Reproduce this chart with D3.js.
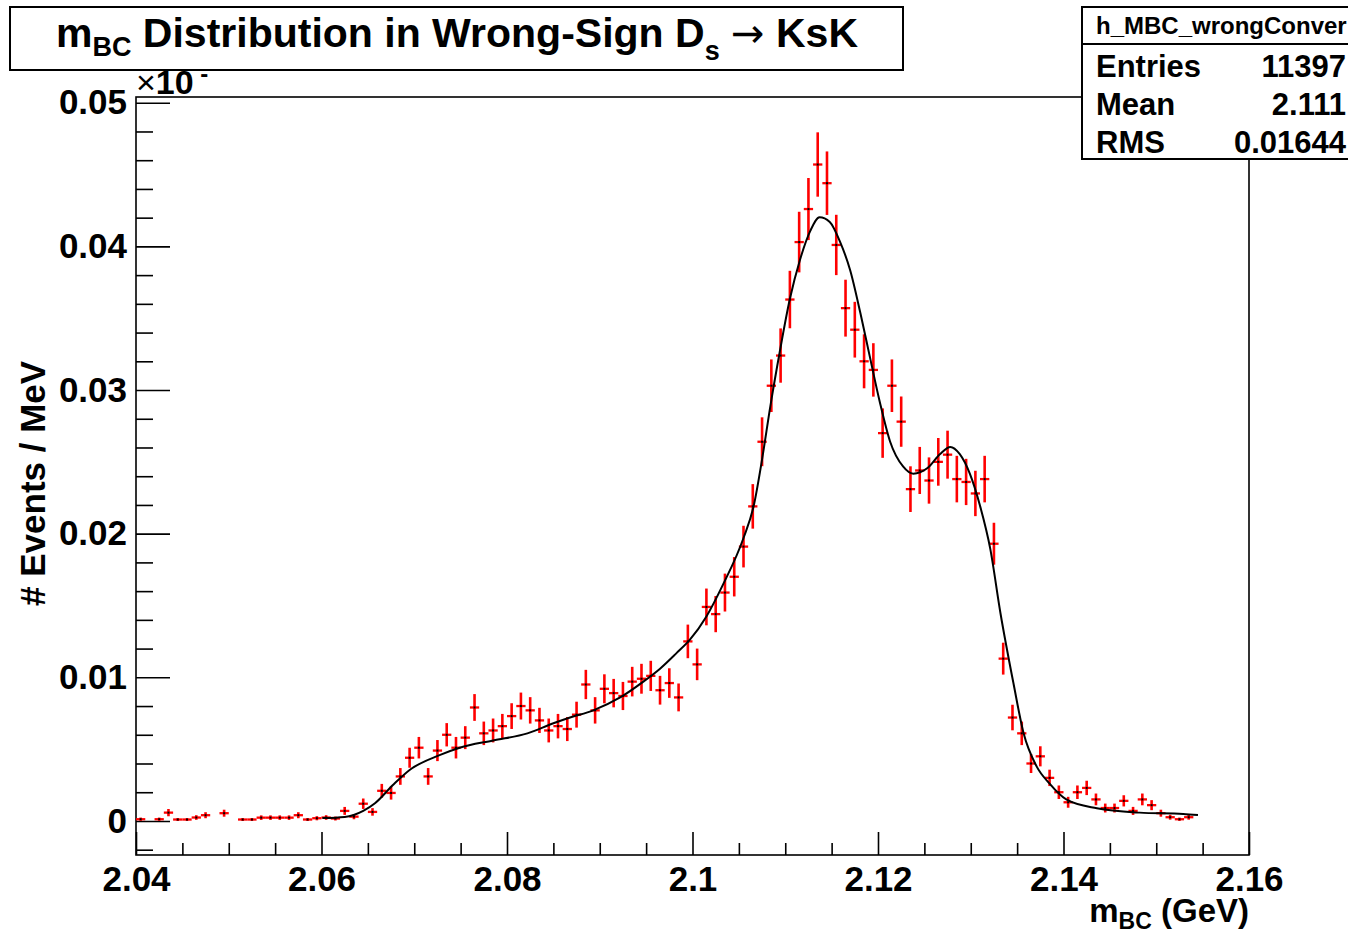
<!DOCTYPE html>
<html>
<head>
<meta charset="utf-8">
<script src="https://cdn.jsdelivr.net/npm/d3@7"></script>
<style>
  body { margin: 0; background: #fff; }
  svg { display: block; }
  text { font-family: "Liberation Sans", Arial, Helvetica, sans-serif; }
</style>
</head>
<body>
<div id="chart"></div>
<script>
// histogram binning (bin k covers [binLow + k*binWidth, binLow + (k+1)*binWidth])
var binLow = 2.04, binWidth = 0.001;

// bin contents (null = empty bin)
var binValues = [
  0.00012, null, 0.00012, 0.00058, 0.0001, 0.0001, 0.00024, 0.0004, null, 0.00054,
  null, 0.0001, 0.0001, 0.00023, 0.00023, 0.00023, 0.00023, 0.0004, 0.0001, 0.00019,
  0.00024, 0.00017, 0.0007, 0.0003, 0.0012, 0.00063, 0.0021, 0.00195, 0.0031, 0.0044,
  0.0051, 0.0031, 0.0049, 0.006, 0.0051, 0.0058, 0.0079, 0.0061, 0.0063, 0.0066,
  0.0073, 0.008, 0.0077, 0.007, 0.0063, 0.0066, 0.0064, 0.0074, 0.0095, 0.0077,
  0.0092, 0.0089, 0.0087, 0.0097, 0.0099, 0.0101, 0.0091, 0.0096, 0.0086, 0.0125,
  0.0109, 0.0149, 0.0144, 0.0159, 0.017, 0.0191, 0.0219, 0.0264, 0.0303, 0.0324,
  0.0363, 0.0403, 0.0426, 0.0457, 0.0444, 0.0401, 0.0357, 0.0342, 0.032, 0.0314,
  0.027, 0.0303, 0.0278, 0.0231, 0.0244, 0.0237, 0.025, 0.0255, 0.0238, 0.0236,
  0.0228, 0.0238, 0.0193, 0.0113, 0.0072, 0.0061, 0.004, 0.0045, 0.003, 0.002,
  0.0013, 0.002, 0.0023, 0.0015, 0.0009, 0.0009, 0.0014, 0.0007, 0.0015, 0.0011,
  0.00054, 0.00026, 0.00012, 0.00026
];

// error bar half-heights, same order
var binErrors = [
  0.000115, null, 0.000115, 0.000253, 0.000105, 0.000105, 0.000162, 0.00021, null, 0.000244,
  null, 0.000105, 0.000105, 0.000159, 0.000159, 0.000159, 0.000159, 0.00021, 0.000105, 0.000145,
  0.000162, 0.000137, 0.000277, 0.000182, 0.000363, 0.000263, 0.00048, 0.000463, 0.000584, 0.000696,
  0.000749, 0.000584, 0.000734, 0.000812, 0.000749, 0.000799, 0.000932, 0.000819, 0.000832, 0.000852,
  0.000896, 0.000938, 0.00092, 0.000877, 0.000832, 0.000852, 0.000839, 0.000902, 0.00102, 0.00092,
  0.00101, 0.00099, 0.00098, 0.00103, 0.00104, 0.00105, 0.001, 0.00103, 0.00097, 0.00117,
  0.0011, 0.00128, 0.00126, 0.00132, 0.00137, 0.00145, 0.00155, 0.0017, 0.00183, 0.00189,
  0.002, 0.00211, 0.00216, 0.00224, 0.00221, 0.0021, 0.00198, 0.00194, 0.00188, 0.00186,
  0.00172, 0.00183, 0.00175, 0.00159, 0.00164, 0.00161, 0.00166, 0.00167, 0.00162, 0.00161,
  0.00158, 0.00162, 0.00146, 0.00111, 0.00089, 0.00082, 0.00066, 0.0007, 0.00057, 0.00047,
  0.00038, 0.00047, 0.0005, 0.00041, 0.00031, 0.00031, 0.00039, 0.00028, 0.00041, 0.00035,
  0.000244, 0.00017, 0.000115, 0.00017
];

// fit curve
var fitX = [2.0601, 2.0625, 2.0645, 2.0658, 2.0677, 2.0695, 2.0728, 2.0749, 2.0785, 2.0822,
  2.085, 2.0868, 2.0893, 2.0922, 2.0947, 2.0965, 2.0983, 2.0997, 2.1015, 2.1033,
  2.1055, 2.1066, 2.1075, 2.1084, 2.1094, 2.1105, 2.1116, 2.1127, 2.1137, 2.1148,
  2.1159, 2.117, 2.1181, 2.1191, 2.1202, 2.1213, 2.1227, 2.1238, 2.1253, 2.1267,
  2.1278, 2.1288, 2.1299, 2.131, 2.1321, 2.1332, 2.1346, 2.1357, 2.1371, 2.1385,
  2.1403, 2.1436, 2.1482, 2.1529, 2.1545];
var fitY = [0.0002, 0.00028, 0.0007, 0.00125, 0.0025, 0.00355, 0.0046, 0.0051, 0.0056, 0.0061,
  0.0068, 0.0072, 0.0077, 0.0086, 0.0097, 0.0106, 0.0117, 0.0126, 0.01424, 0.01647,
  0.0197, 0.02194, 0.02517, 0.0289, 0.03263, 0.03635, 0.03909, 0.04108, 0.04203, 0.0417,
  0.04033, 0.03834, 0.03536, 0.03238, 0.02915, 0.02642, 0.02468, 0.02418, 0.02455, 0.02555,
  0.02604, 0.02555, 0.02418, 0.02194, 0.01896, 0.01448, 0.0096, 0.0061, 0.0038, 0.0026,
  0.0015, 0.00088, 0.00058, 0.00049, 0.00042];

var xMajor = [2.04, 2.06, 2.08, 2.1, 2.12, 2.14, 2.16];
var xLabels = ["2.04", "2.06", "2.08", "2.1", "2.12", "2.14", "2.16"];
var yMajor = [0, 0.01, 0.02, 0.03, 0.04, 0.05];
var yLabels = ["0", "0.01", "0.02", "0.03", "0.04", "0.05"];

var statNames = ["Entries", "Mean", "RMS"];
var statValues = ["11397", "2.111", "0.01644"];

// Set the dimensions and margins of the graph
var W = 1348, H = 936;
var margin = {top: 97, right: 99, bottom: 81, left: 136},
    width = W - margin.left - margin.right,
    height = H - margin.top - margin.bottom;

var svg = d3.select("#chart")
  .append("svg")
    .attr("width", W)
    .attr("height", H);

svg.append("rect").attr("width", W).attr("height", H).attr("fill", "#fff");

var x = d3.scaleLinear().domain([2.04, 2.16]).range([margin.left, margin.left + width]);
var y = d3.scaleLinear().domain([-0.00237, 0.0504]).range([margin.top + height, margin.top]);

// frame
svg.append("rect")
  .attr("x", margin.left).attr("y", margin.top)
  .attr("width", width).attr("height", height)
  .attr("fill", "none").attr("stroke", "#000").attr("stroke-width", 1.6);

// X axis: ticks drawn inside the frame
var xMinor = d3.range(0, 25).map(function(i) { return 2.04 + i * 0.005; })
  .filter(function(v) { return Math.abs(((v - 2.04) / 0.02) - Math.round((v - 2.04) / 0.02)) > 1e-6; });
svg.append("g")
  .attr("transform", "translate(0," + (margin.top + height) + ")")
  .call(d3.axisBottom(x).tickValues(xMinor).tickSize(-12).tickFormat(""))
  .call(function(g) { g.select(".domain").remove(); });
svg.append("g")
  .attr("class", "xaxis")
  .attr("transform", "translate(0," + (margin.top + height) + ")")
  .call(d3.axisBottom(x).tickValues(xMajor).tickSize(-23).tickPadding(11)
    .tickFormat(function(d, i) { return xLabels[i]; }))
  .call(function(g) { g.select(".domain").remove(); });

// Y axis
var yMinor = d3.range(-1, 26).map(function(i) { return i * 0.002; })
  .filter(function(v) { return Math.abs(v / 0.01 - Math.round(v / 0.01)) > 1e-6 && v < 0.0504; });
svg.append("g")
  .attr("transform", "translate(" + margin.left + ",0)")
  .call(d3.axisLeft(y).tickValues(yMinor).tickSize(-17).tickFormat(""))
  .call(function(g) { g.select(".domain").remove(); });
svg.append("g")
  .attr("class", "yaxis")
  .attr("transform", "translate(" + margin.left + ",0)")
  .call(d3.axisLeft(y).tickValues(yMajor).tickSize(-34).tickPadding(9)
    .tickFormat(function(d, i) { return yLabels[i]; }))
  .call(function(g) { g.select(".domain").remove(); });

svg.selectAll(".tick line").attr("stroke", "#000").attr("stroke-width", 1.6);
svg.selectAll(".xaxis text, .yaxis text")
  .attr("fill", "#000")
  .style("font-size", "35px")
  .style("font-weight", "bold")
  .style("font-family", "'Liberation Sans', Arial, sans-serif");
svg.selectAll(".xaxis text").attr("dy", "0.71em");

// axis titles
svg.append("text")
  .attr("transform", "translate(45," + y(0.0235) + ") rotate(-90)")
  .attr("text-anchor", "middle")
  .style("font-size", "35px").style("font-weight", "bold")
  .text("# Events / MeV");

var xt = svg.append("text")
  .attr("x", margin.left + width).attr("y", 922)
  .attr("text-anchor", "end")
  .style("font-size", "33px").style("font-weight", "bold");
xt.append("tspan").text("m");
xt.append("tspan").attr("dy", 7).style("font-size", "23px").text("BC");
xt.append("tspan").attr("dy", -7).text(" (GeV)");

// exponent label, partly hidden by the title box
var ex = svg.append("text")
  .attr("x", margin.left).attr("y", 94)
  .style("font-size", "34px").style("font-weight", "bold");
ex.append("tspan").style("font-weight", "normal").text("\u00d7");
ex.append("tspan").text("10");
ex.append("tspan").attr("dy", -12).style("font-size", "24px").text(" -");

// data points: error crosses
var pts = binValues.map(function(v, k) {
  return {x: binLow + (k + 0.5) * binWidth, v: v, e: binErrors[k]};
}).filter(function(d) { return d.v !== null; });

var cross = svg.append("g").selectAll("g")
  .data(pts)
  .enter().append("g");
cross.append("line")
  .attr("x1", function(d) { return x(d.x - binWidth / 2); })
  .attr("x2", function(d) { return x(d.x + binWidth / 2); })
  .attr("y1", function(d) { return y(d.v); })
  .attr("y2", function(d) { return y(d.v); })
  .attr("stroke", "#ff0000").attr("stroke-width", 2.3);
cross.append("line")
  .attr("x1", function(d) { return x(d.x); })
  .attr("x2", function(d) { return x(d.x); })
  .attr("y1", function(d) { return y(d.v - d.e); })
  .attr("y2", function(d) { return y(d.v + d.e); })
  .attr("stroke", "#ff0000").attr("stroke-width", 2.6);
cross.append("rect")
  .attr("x", function(d) { return x(d.x) - 1; })
  .attr("y", function(d) { return y(d.v) - 1; })
  .attr("width", 2).attr("height", 2)
  .attr("fill", "#000");

// fit curve
var fitLine = d3.line()
  .x(function(d) { return x(d[0]); })
  .y(function(d) { return y(d[1]); })
  .curve(d3.curveMonotoneX);
svg.append("path")
  .datum(fitX.map(function(v, i) { return [v, fitY[i]]; }))
  .attr("d", fitLine)
  .attr("fill", "none").attr("stroke", "#000").attr("stroke-width", 2);

// title box
svg.append("rect")
  .attr("x", 10).attr("y", 7).attr("width", 893).attr("height", 63)
  .attr("fill", "#fff").attr("stroke", "#000").attr("stroke-width", 2);
var tt = svg.append("text")
  .attr("x", 457).attr("y", 47)
  .attr("text-anchor", "middle")
  .style("font-size", "41px").style("font-weight", "bold");
tt.append("tspan").text("m");
tt.append("tspan").attr("dy", 9).style("font-size", "27px").text("BC");
tt.append("tspan").attr("dy", -9).text(" Distribution in Wrong-Sign D");
tt.append("tspan").attr("dy", 13).style("font-size", "27px").text("s");
tt.append("tspan").attr("dy", -13).text(" ");
tt.append("tspan").style("font-family", "'DejaVu Sans', sans-serif").style("font-weight", "normal")
  .style("font-size", "40px").text("\u2192");
tt.append("tspan").text(" KsK");

// stats box
var sx = 1082, sy = 7;
svg.append("rect")
  .attr("x", sx).attr("y", sy).attr("width", 300).attr("height", 152)
  .attr("fill", "#fff").attr("stroke", "#000").attr("stroke-width", 2);
svg.append("line")
  .attr("x1", sx).attr("x2", W).attr("y1", 44).attr("y2", 44)
  .attr("stroke", "#000").attr("stroke-width", 2);
svg.append("text")
  .attr("x", 1096).attr("y", 34)
  .style("font-size", "24px").style("font-weight", "bold")
  .text("h_MBC_wrongConver");
statNames.forEach(function(n, i) {
  svg.append("text")
    .attr("x", 1096).attr("y", 77 + i * 38)
    .style("font-size", "31px").style("font-weight", "bold")
    .text(n);
  svg.append("text")
    .attr("x", 1346).attr("y", 77 + i * 38)
    .attr("text-anchor", "end")
    .style("font-size", "31px").style("font-weight", "bold")
    .text(statValues[i]);
});
</script>
</body>
</html>
